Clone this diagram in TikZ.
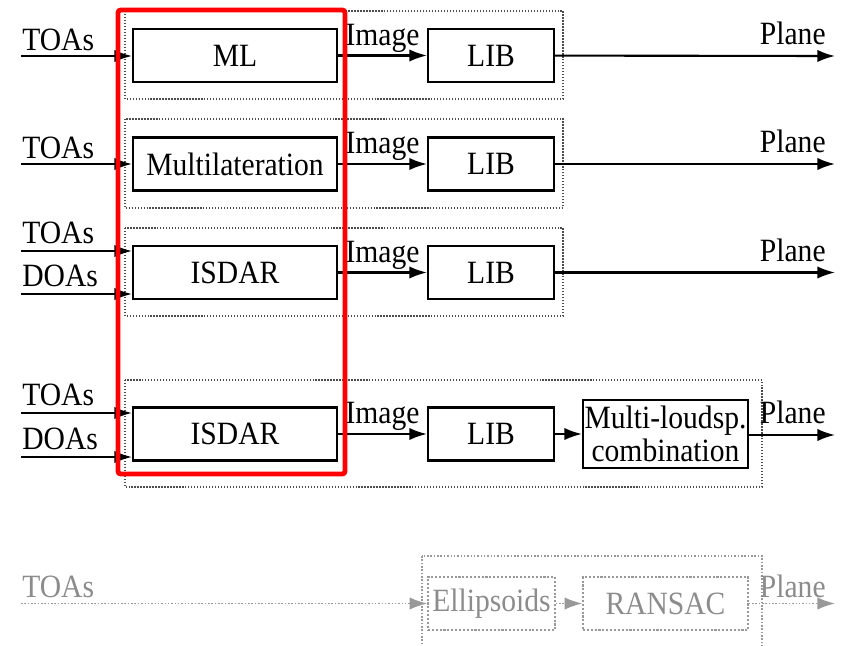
\documentclass[tikz,border=0pt]{standalone}
\usepackage{fontspec}
\setmainfont{Liberation Serif}[FakeStretch=0.91]
\usepackage{tikz}
\usetikzlibrary{arrows.meta,calc}

\tikzset{
  >={Latex[length=10pt,width=7pt]},
  blk/.style={draw,line width=1.2pt,inner sep=0pt,minimum height=1.06cm,align=center},
  lbl/.style={inner sep=0pt},
  sig/.style={->,line width=1.2pt},
  grp/.style={densely dotted,line width=0.7pt,draw=black!70},
  faded/.style={draw=black!40,text=black!45,densely dotted,line width=0.9pt}
}

\begin{document}
\begin{tikzpicture}[x=0.02cm,y=-0.02cm,font=\fontsize{18.5}{20}\selectfont]
\useasboundingbox (0,0) rectangle (843,646);
\clip (0,0) rectangle (843,646);

% dotted groups
\draw[grp] (125,11) rectangle (563,99);
\draw[grp] (125,119) rectangle (563,208);
\draw[grp] (125,228) rectangle (563,316);
\draw[grp] (125,380) rectangle (762,487);

% row 1
\node[blk,minimum width=4.08cm] (ml) at (235,55.5) {ML};
\node[blk,minimum width=2.52cm] (libA) at (491,55.5) {LIB};
\coordinate (inA) at (21,56);
\coordinate (outA) at (835,56);
\draw[sig] (inA) -- (ml.west |- inA);
\node[lbl,anchor=base west] (toaA) at (22,50) {TOAs};
\draw[sig] (ml) -- (libA) node[midway,above=-2pt] {Image};
\draw[sig] (libA) -- (outA);
\node[lbl,anchor=base east] (plA) at (826,44) {Plane};

% row 2
\node[blk,minimum width=4.08cm] (mlat) at (235,164) {Multilateration};
\node[blk,minimum width=2.52cm] (libB) at (491,164) {LIB};
\coordinate (inB) at (21,164);
\coordinate (outB) at (835,164);
\draw[sig] (inB) -- (mlat.west |- inB);
\node[lbl,anchor=base west] (toaB) at (22,158) {TOAs};
\draw[sig] (mlat) -- (libB) node[midway,above=-2pt] {Image};
\draw[sig] (libB) -- (outB);
\node[lbl,anchor=base east] (plB) at (826,152) {Plane};

% row 3
\node[blk,minimum width=4.08cm] (isdarC) at (235,272.5) {ISDAR};
\node[blk,minimum width=2.52cm] (libC) at (491,272.5) {LIB};
\coordinate (tC) at (21,251);
\coordinate (dC) at (21,294);
\coordinate (outC) at (835,272.5);
\draw[sig] (tC) -- (isdarC.west |- tC);
\draw[sig] (dC) -- (isdarC.west |- dC);
\node[lbl,anchor=base west] (toaC) at (22,243) {TOAs};
\node[lbl,anchor=base west] (doaC) at (22,286) {DOAs};
\draw[sig] (isdarC) -- (libC) node[midway,above=-2pt] {Image};
\draw[sig] (libC) -- (outC);
\node[lbl,anchor=base east] (plC) at (826,261) {Plane};

% row 4
\node[blk,minimum width=4.08cm] (isdarD) at (235,434) {ISDAR};
\node[blk,minimum width=2.52cm] (libD) at (491,434) {LIB};
\node[blk,minimum width=3.3cm,minimum height=1.36cm] (comb) at (665.5,434) {Multi-loudsp.\\[-1pt]combination};
\coordinate (tD) at (21,413);
\coordinate (dD) at (21,457);
\coordinate (outD) at (835,435);
\draw[sig] (tD) -- (isdarD.west |- tD);
\draw[sig] (dD) -- (isdarD.west |- dD);
\node[lbl,anchor=base west] (toaD) at (22,405) {TOAs};
\node[lbl,anchor=base west] (doaD) at (22,449) {DOAs};
\draw[sig] (isdarD) -- (libD) node[midway,above=-2pt] {Image};
\draw[sig] (libD) -- (comb);
\draw[sig] (comb.east |- outD) -- (outD);
\node[lbl,anchor=base east] (plD) at (826,423) {Plane};

% the red frame
\draw[red,line width=2.7pt,rounded corners=1.5pt] (118,10) rectangle (345,474);

% faded row
\draw[faded] (422,556) rectangle (762,660);
\node[blk,faded,minimum width=2.54cm] (ell) at (491.5,603.5) {Ellipsoids};
\node[blk,faded,minimum width=3.3cm] (ransac) at (665.5,603.5) {RANSAC};
\coordinate (inE) at (21,603.5);
\coordinate (outE) at (835,603.5);
\draw[faded,->] (inE) -- (ell);
\node[lbl,text=black!45,anchor=base west] (toaE) at (22,597) {TOAs};
\draw[faded,->] (ell) -- (ransac);
\draw[faded,->] (ransac) -- (outE);
\node[lbl,text=black!45,anchor=base east] (plE) at (826,597) {Plane};
\end{tikzpicture}
\end{document}
